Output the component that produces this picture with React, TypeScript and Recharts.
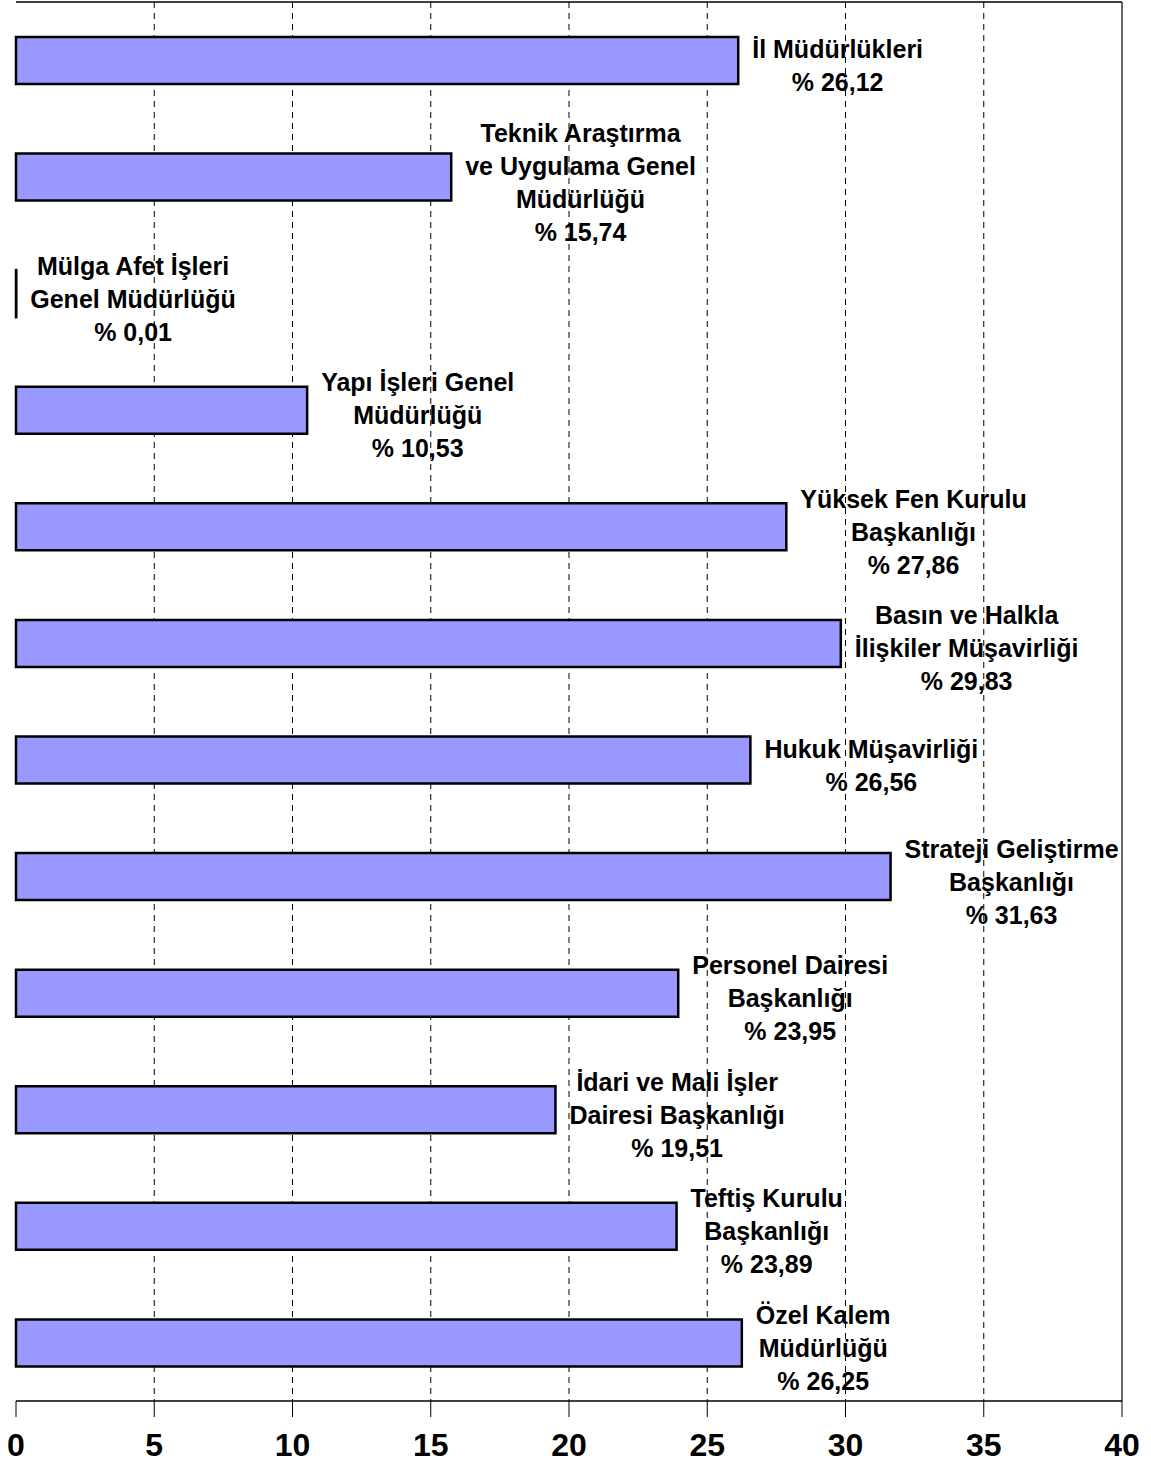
import React from "react";
import { BarChart, Bar, XAxis, YAxis, CartesianGrid, ReferenceLine } from "recharts";

const units = [
  "İl Müdürlükleri",
  "Teknik Araştırma\nve Uygulama Genel\nMüdürlüğü",
  "Mülga Afet İşleri\nGenel Müdürlüğü",
  "Yapı İşleri Genel\nMüdürlüğü",
  "Yüksek Fen Kurulu\nBaşkanlığı",
  "Basın ve Halkla\nİlişkiler Müşavirliği",
  "Hukuk Müşavirliği",
  "Strateji Geliştirme\nBaşkanlığı",
  "Personel Dairesi\nBaşkanlığı",
  "İdari ve Mali İşler\nDairesi Başkanlığı",
  "Teftiş Kurulu\nBaşkanlığı",
  "Özel Kalem\nMüdürlüğü",
];
const percents = [26.12, 15.74, 0.01, 10.53, 27.86, 29.83, 26.56, 31.63, 23.95, 19.51, 23.89, 26.25];
const xTicks = [0, 5, 10, 15, 20, 25, 30, 35, 40];
const gridTicks = [5, 10, 15, 20, 25, 30, 35];

const data = units.map((name, i) => ({ name, value: percents[i] }));

const FONT = "'Liberation Sans', Arial, sans-serif";

let ctx: CanvasRenderingContext2D | null = null;
function textWidth(s: string) {
  if (!ctx) ctx = document.createElement("canvas").getContext("2d");
  if (!ctx) return s.length * 12;
  ctx.font = "bold 25px 'Liberation Sans', Arial";
  return ctx.measureText(s).width;
}

function BarLabel(props: any) {
  const { x, y, width, height, index } = props;
  const row = data[index];
  if (!row) return null;
  const lines = [...row.name.split("\n"), "% " + row.value.toFixed(2).replace(".", ",")];
  const maxW = Math.max(...lines.map(textWidth));
  const cx = x + width + 14 + maxW / 2;
  const cy = y + height / 2 + 5;
  return (
    <g>
      {lines.map((line, i) => (
        <text
          key={i}
          x={cx}
          y={cy + (i - (lines.length - 1) / 2) * 33}
          textAnchor="middle"
          dominantBaseline="central"
          fontFamily={FONT}
          fontWeight="bold"
          fontSize={25}
          fill="#000"
        >
          {line}
        </text>
      ))}
    </g>
  );
}

export default function App() {
  return (
    <div style={{ position: "absolute", left: 0, top: 0, background: "#fff" }}>
      <BarChart
        width={1151}
        height={1463}
        data={data}
        layout="vertical"
        margin={{ top: 2, right: 29, left: 16, bottom: 0 }}
        barSize={47}
      >
        <CartesianGrid
          horizontal={false}
          vertical
          verticalValues={gridTicks}
          stroke="#000"
          strokeDasharray="6 5"
        />
        <CartesianGrid
          vertical={false}
          horizontal
          horizontalCoordinatesGenerator={({ offset }: any) => [offset.top]}
          stroke="#000"
          strokeWidth={1.5}
        />
        <XAxis
          type="number"
          domain={[0, 40]}
          ticks={xTicks}
          interval={0}
          tickSize={16}
          axisLine={{ stroke: "#000", strokeWidth: 1.5 }}
          tickLine={{ stroke: "#000", strokeWidth: 1 }}
          tick={{ fill: "#000", fontSize: 32, fontWeight: "bold", fontFamily: FONT, dy: 14 }}
          height={62}
        />
        <YAxis
          type="category"
          dataKey="name"
          width={0}
          tick={false}
          tickLine={false}
          axisLine={{ stroke: "#000", strokeWidth: 3 }}
        />
        <ReferenceLine x={40} stroke="#333" strokeWidth={1.5} />
        <Bar
          dataKey="value"
          fill="#9999FF"
          stroke="#000"
          strokeWidth={2.5}
          isAnimationActive={false}
          label={BarLabel}
        />
      </BarChart>
    </div>
  );
}
